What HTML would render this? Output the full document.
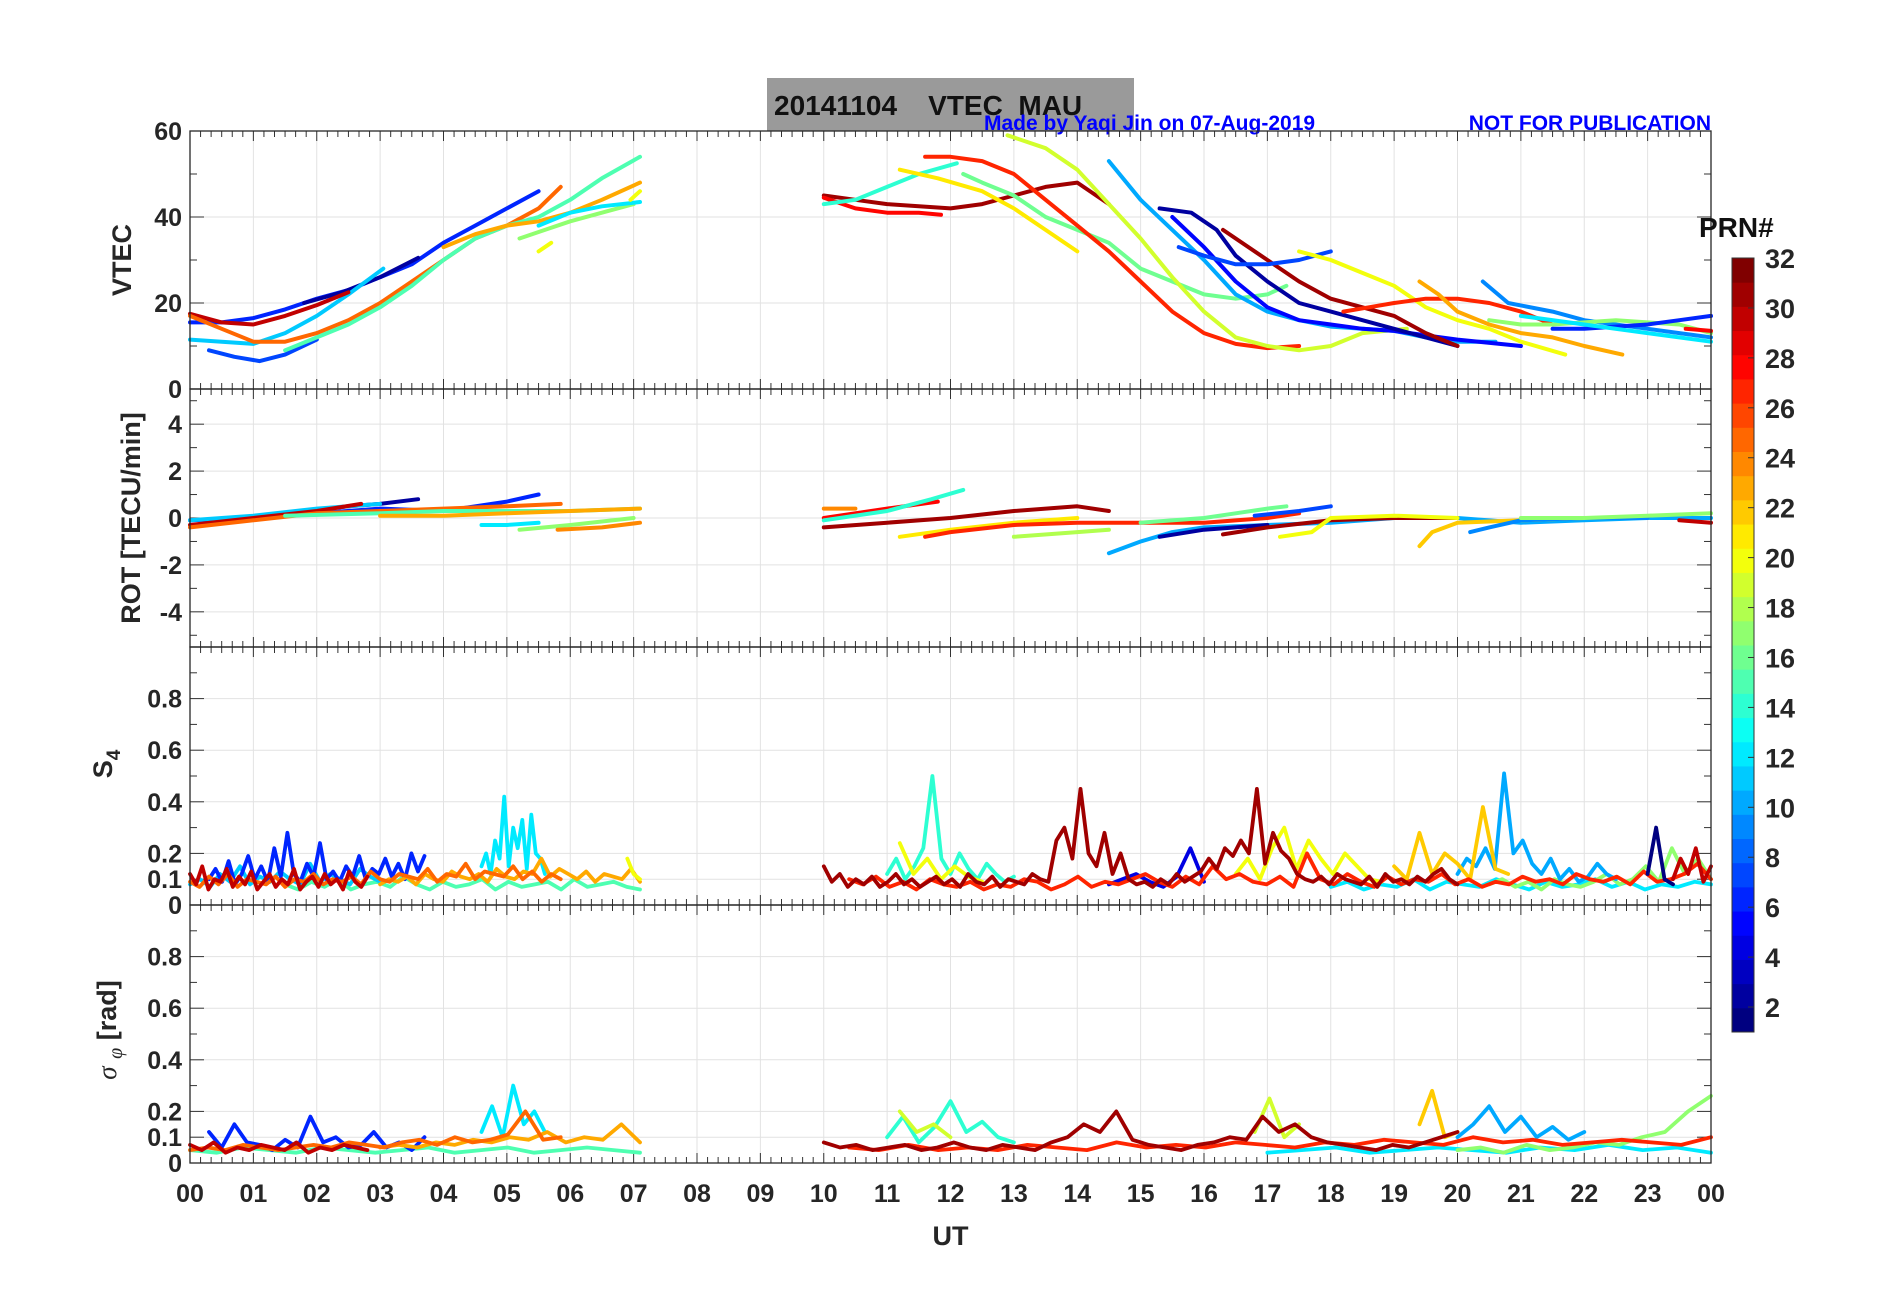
<!DOCTYPE html>
<html><head><meta charset="utf-8"><style>
body{margin:0;background:#fff;}
svg text{font-family:"Liberation Sans",Arial,sans-serif;font-weight:bold;white-space:pre;}
</style></head><body>
<svg id="c" width="1902" height="1292" xmlns="http://www.w3.org/2000/svg"></svg>
<script>
// ---- data ----
const hourLabels=["00","01","02","03","04","05","06","07","08","09","10","11","12","13","14","15","16","17","18","19","20","21","22","23","00"];
const vtecTicks=[0,20,40,60];
const rotTicks=[-4,-2,0,2,4];
const s4Ticks=[0,0.1,0.2,0.4,0.6,0.8];
const sigTicks=[0,0.1,0.2,0.4,0.6,0.8];
const prnTicks=[2,4,6,8,10,12,14,16,18,20,22,24,26,28,30,32];
// VTEC: [prn, times, values]
const vtecSeries=[
[6,[0,0.5,1,1.5,2,2.5,3,3.5,4,4.5,5,5.5],[15.5,15.5,16.5,18.5,21,23,26,29,34,38,42,46]],
[7,[0.3,0.7,1.1,1.5,2],[9,7.5,6.5,8,11.5]],
[2,[1.8,2.4,3,3.6],[20,22.5,26,30.5]],
[11,[0,0.5,1,1.5,2,2.5,3.05],[11.5,11,10.5,13,17,22,28]],
[30,[0,0.5,1,1.5,2,2.5],[17.5,15.5,15,17,19.5,22.5]],
[25,[0,0.5,1,1.5,2,2.5,3,3.5,4,4.5,5,5.5,5.85],[17,14,11,11,13,16,20,25,30,35,38,42,47]],
[15,[1.5,2,2.5,3,3.5,4,4.5,5,5.5,6,6.5,7.1],[9,12,15,19,24,30,35,38,40,44,49,54]],
[23,[4,4.5,5,5.5,6,6.5,7.1],[33,36,38,39,41,44,48]],
[17,[5.2,5.6,6,6.5,7],[35,37,39,41,43]],
[12,[5.5,6,6.5,7.1],[38,41,42.5,43.5]],
[20,[5.5,5.7],[32,34]],
[20,[6.95,7.1],[44,46]],
[31,[10,10.5,11,11.5,12,12.5,13,13.5,14,14.5],[45,44,43,42.5,42,43,45,47,48,43]],
[28,[10,10.5,11,11.5,11.85],[44.5,42,41,41,40.5]],
[14,[10,10.5,11,11.5,12.1],[43,44,47,50,52.5]],
[21,[11.2,11.8,12.5,13,13.5,14],[51,49,46,42,37,32]],
[16,[12.2,12.5,13,13.5,14,14.5,15,15.5,16,16.5,17,17.3],[50,48,45,40,37,34,28,25,22,21,22,24]],
[27,[11.6,12,12.5,13,13.5,14,14.5,15,15.5,16,16.5,17,17.5],[54,54,53,50,44,38,32,25,18,13,10.5,9.5,10]],
[19,[12.9,13.5,14,14.5,15,15.5,16,16.5,17,17.5,18,18.5,19.2],[59,56,51,43,35,26,18,12,10,9,10,13,14]],
[10,[14.5,15,15.5,16,16.5,17,17.5,18,18.5,19,19.5,20,20.6],[53,44,37,30,22,18,16,14.5,14,13.5,12,11,11]],
[5,[15.5,16,16.5,17,17.5,18,18.5,19,19.5,20,21],[40,33,25,19,16,15,14,13.5,12.5,11.5,10]],
[2,[15.3,15.8,16.2,16.5,17,17.5,18,18.5,19,19.5,20],[42,41,37,31,25,20,18,16,14,12,10]],
[31,[16.3,17,17.5,18,18.5,19,19.5,20],[37,30,25,21,19,17,13,10]],
[7,[15.6,16,16.5,17,17.5,18],[33,31,29,29,30,32]],
[20,[17.5,18,18.5,19,19.5,20,20.5,21,21.7],[32,30,27,24,19,16,14,11,8]],
[27,[18.2,18.6,19,19.5,20,20.5,21,21.5],[18,19,20,21,21,20,18,15]],
[23,[19.4,19.7,20,20.5,21,21.5,22,22.6],[25,22,18,15,13,12,10,8]],
[9,[20.4,20.8,21.5,22,22.5,23,23.5,24],[25,20,18,16,15,14,13,12]],
[17,[20.5,21,21.5,22,22.5,23,23.5,24],[16,15,15,15.5,16,15.5,15,13]],
[6,[21.5,22,22.5,23,23.5,24],[14,14,14.5,15,16,17]],
[12,[21,22,23,24],[17,15,13,11]],
[28,[23.6,24],[14,13.5]]
];
const rotSeries=[
[6,[0,1,2,3,4,4.5,5,5.5],[-0.1,0,0.2,0.4,0.3,0.5,0.7,1.0]],
[2,[1.8,2.5,3,3.6],[0.3,0.5,0.6,0.8]],
[11,[0,1,2,3],[-0.1,0.1,0.4,0.6]],
[30,[0,1,2,2.7],[-0.3,0,0.3,0.6]],
[25,[0,1,2,3,4,5,5.85],[-0.4,-0.1,0.2,0.3,0.4,0.5,0.6]],
[15,[1.5,3,4,5,6,7.1],[0.1,0.2,0.3,0.3,0.3,0.4]],
[23,[3,4,5,6,7.1],[0.1,0.1,0.2,0.3,0.4]],
[12,[4.6,5,5.5],[-0.3,-0.3,-0.2]],
[17,[5.2,6,7],[-0.5,-0.3,0]],
[24,[5.8,6.5,7.1],[-0.5,-0.4,-0.2]],
[24,[10,10.5],[0.4,0.4]],
[28,[10,11,11.8],[0,0.4,0.7]],
[14,[10,11,11.7,12.2],[-0.1,0.3,0.8,1.2]],
[31,[10,11,12,13,14,14.5],[-0.4,-0.2,0,0.3,0.5,0.3]],
[21,[11.2,12,13,14],[-0.8,-0.5,-0.2,0]],
[27,[11.6,12,13,14,15,16,17,17.5],[-0.8,-0.6,-0.3,-0.2,-0.2,-0.2,0,0.2]],
[18,[13,14,14.5],[-0.8,-0.6,-0.5]],
[10,[14.5,15,15.5,16,17,18,19,20,21,22,23,24],[-1.5,-1,-0.6,-0.4,-0.3,-0.2,0,0,-0.2,-0.1,0,0]],
[2,[15.3,16,17],[-0.8,-0.5,-0.3]],
[31,[16.3,17,18,19,20],[-0.7,-0.4,-0.1,0,0]],
[16,[15,16,16.5,17,17.3],[-0.2,0,0.2,0.4,0.5]],
[7,[16.8,17.5,18],[0.1,0.3,0.5]],
[20,[17.2,17.7,18,19,20],[-0.8,-0.6,0,0.1,0]],
[22,[19.4,19.6,20,21,22,23],[-1.2,-0.6,-0.2,-0.1,0,0]],
[9,[20.2,20.5,21,22,23],[-0.6,-0.4,-0.1,0,0]],
[17,[21,22,23,24],[0,0,0.1,0.2]],
[30,[23.5,24],[-0.1,-0.2]]
];
// S4: [prn, tStart, tEnd, values in hundredths]
const s4Series=[
[15,1.5,7.1,"8 6 9 7 10 6 8 9 7 11 8 6 9 7 8 10 6 9 7 8 9 6 10 7 8 9 7 6"],
[11,0,3,"8 10 7 12 9 15 8 11 9 13 10 8 16 9 12 10 8 14 11 9"],
[6,0.3,3.7,"10 14 9 17 8 12 19 10 15 9 22 11 28 12 9 16 11 24 10 13 9 15 11 19 10 14 12 18 11 16 10 20 13 19"],
[12,4.6,5.6,"15 20 12 25 18 42 15 30 22 33 14 35 20 18 12"],
[23,3,7.1,"8 10 9 11 8 12 10 9 13 11 10 12 9 14 11 10 13 12 18 11 14 12 10 13 9 12 11 10 14 9"],
[20,6.9,7.1,"18 12 10"],
[25,0,5.85,"9 7 11 8 12 7 10 9 8 11 7 10 9 12 8 10 9 11 8 13 10 9 12 11 10 14 9 12 11 16 10 13 12 11 15 10 13 9 12 10"],
[30,0,2.8,"12 8 15 6 10 9 14 7 11 8 13 6 9 12 7 10 8 14 6 9 11 7 12 8 10 6 13 9 7 11"],
[12,18,24,"7 9 6 8 7 10 6 9 8 7 10 8 6 9 7 8 10 7 9 6 8 7 9 8"],
[17,20.5,24,"8 10 7 9 6 10 8 7 9 12 8 10 15 9 22 12 18 10"],
[14,11,13,"12 18 10 15 22 50 18 12 20 14 10 16 12 9 11"],
[4,14.5,16,"8 10 12 9 7 11 22 9"],
[10,20,22.5,"12 18 15 22 14 51 20 25 16 12 18 10 14 9 11 16 12 10"],
[20,11.2,12.5,"24 12 18 10 15 11 9"],
[20,16.5,18.8,"12 18 10 22 30 14 25 18 12 20 15 10 9"],
[22,19,20.8,"15 10 28 12 20 16 10 38 14 12"],
[27,10.4,24,"10 8 11 7 9 6 10 8 7 9 6 8 7 10 9 6 8 11 7 9 8 10 12 9 7 11 8 15 10 12 9 8 11 7 20 10 8 12 9 7 11 8 10 9 12 8 10 7 9 8 11 9 10 8 12 10 9 11 8 13 9 10 12 16 10"],
[1,23,23.4,"12 30 10 8"],
[31,10,20,"15 9 12 7 10 8 11 7 9 12 8 10 7 9 11 8 10 7 12 9 8 11 7 10 9 8 12 10 9 25 30 18 45 20 15 28 12 20 10 8 9 7 10 8 12 9 11 13 18 14 22 19 25 20 45 16 28 21 18 12 10 9 11 8 12 10 9 8 11 7 12 9 10 8 11 9 12 14 10 8"],
[30,23.4,24,"10 18 12 22 9 15"]
];
const sigSeries=[
[15,0,7.1,"5 4 6 5 4 6 5 4 5 6 4 5 6 4 5 6 5 4"],
[6,0.3,3.7,"12 6 15 8 7 5 9 6 18 8 10 6 7 12 6 8 5 10"],
[12,4.6,5.6,"12 22 10 30 15 20 12"],
[23,3,7.1,"6 7 6 8 7 9 8 10 9 12 8 10 9 15 8"],
[25,0,5.85,"5 6 5 7 6 5 6 7 6 8 7 6 8 9 7 10 8 9 11 20 9 10"],
[30,0,2.8,"7 5 8 4 6 5 7 6 5 8 4 6 5 7 6 5"],
[12,17,24,"4 5 6 4 5 6 5 4 6 5 7 5 6 4"],
[14,11,13,"10 18 8 14 24 12 16 10 8"],
[19,11.2,12,"20 12 15 10"],
[19,16.8,17.5,"12 25 10 15"],
[10,20,22,"10 15 22 12 18 10 14 9 12"],
[22,19.4,20,"15 28 10 12"],
[17,20,24,"5 6 4 7 5 6 8 7 10 12 20 26"],
[27,10.4,24,"6 5 7 5 6 5 7 6 5 8 6 7 6 8 7 6 8 7 9 8 7 10 8 9 7 8 9 8 7 10"],
[31,10,20,"8 6 7 5 6 7 5 6 8 6 5 7 6 5 8 10 15 12 20 9 7 6 5 7 8 10 9 18 12 15 10 8 7 6 5 7 6 8 10 12"]
];
// ---- drawing ----
const NS="http://www.w3.org/2000/svg";
const svg=document.getElementById('c');
function el(tag,attrs,parent){const e=document.createElementNS(NS,tag);for(const k in attrs)e.setAttribute(k,attrs[k]);(parent||svg).appendChild(e);return e;}
const L=190,R=1711;
const X=t=>L+t/24*(R-L);
const panels=[
 {top:131,bot:389,min:0,max:60,ticks:vtecTicks,minor:10,name:'vtec'},
 {top:389,bot:647,min:-5.5,max:5.5,ticks:rotTicks,minor:1,name:'rot'},
 {top:647,bot:905,min:0,max:1,ticks:s4Ticks,minor:0.1,name:'s4'},
 {top:905,bot:1163,min:0,max:1,ticks:sigTicks,minor:0.1,name:'sigma'}
];
panels.forEach(p=>p.Y=v=>p.bot-(v-p.min)/(p.max-p.min)*(p.bot-p.top));
function jet(prn){const x=(prn-1)/31;const f=c=>Math.max(0,Math.min(1,c));
 const r=f(1.5-Math.abs(4*x-3)),g=f(1.5-Math.abs(4*x-2)),b=f(1.5-Math.abs(4*x-1));
 return `rgb(${Math.round(r*255)},${Math.round(g*255)},${Math.round(b*255)})`;}
const tb=el('rect',{x:767,y:78,width:367,height:53,fill:'#9a9a9a'});


let t=el('text',{x:774,y:115,'font-size':28,fill:'#111'});t.textContent='20141104    VTEC  MAU';


t=el('text',{x:984,y:130,'font-size':21,fill:'#0000ff'});t.textContent='Made by Yaqi Jin on 07-Aug-2019';


t=el('text',{x:1711,y:130,'font-size':21,fill:'#0000ff','text-anchor':'end'});t.textContent='NOT FOR PUBLICATION';


panels.forEach((p,pi)=>{
 const g=el('g',{});
 
 
 for(let h=1;h<24;h++)el('line',{x1:X(h),x2:X(h),y1:p.top,y2:p.bot,stroke:'#e2e2e2','stroke-width':1},g);
 p.ticks.forEach(v=>{if(v>p.min&&v<p.max)el('line',{x1:L,x2:R,y1:p.Y(v),y2:p.Y(v),stroke:'#e2e2e2','stroke-width':1},g);});
 for(let m=0;m<=144;m++){const x=X(m/6),len=m%6==0?10:6;
  el('line',{x1:x,x2:x,y1:p.bot,y2:p.bot-len,stroke:'#333','stroke-width':1},g);
  el('line',{x1:x,x2:x,y1:p.top,y2:p.top+len,stroke:'#333','stroke-width':1},g);}
 for(let v=p.min+(p.min<0?0.5:0);v<=p.max+1e-9;v+=p.minor){const y=p.Y(v),maj=p.ticks.some(q=>Math.abs(q-v)<1e-6);const len=maj?14:7;
  el('line',{x1:L,x2:L+len,y1:y,y2:y,stroke:'#333','stroke-width':1},g);
  el('line',{x1:R,x2:R-len,y1:y,y2:y,stroke:'#333','stroke-width':1},g);}
 p.ticks.forEach(v=>{const tx=el('text',{x:L-8,y:p.Y(v)+9,'font-size':25,'text-anchor':'end',fill:'#262626'},g);tx.textContent=String(v);
  
  });
 p.g=g;
});
function drawLine(p,prn,ts,vs,w){
 const pts=ts.map((tt,i)=>X(tt).toFixed(1)+','+p.Y(vs[i]).toFixed(1)).join(' ');
 const pl=el('polyline',{points:pts,fill:'none',stroke:jet(prn),'stroke-width':w,'stroke-linejoin':'round','stroke-linecap':'round'},p.g);
 
 
}
vtecSeries.forEach(s=>drawLine(panels[0],s[0],s[1],s[2],4));
rotSeries.forEach(s=>drawLine(panels[1],s[0],s[1],s[2],4));
function drawNoisy(p,arr){arr.forEach(s=>{const vals=s[3].split(' ').map(Number).map(v=>v/100);
 const ts=vals.map((_,i)=>s[1]+(s[2]-s[1])*i/Math.max(1,vals.length-1));drawLine(p,s[0],ts,vals,3.8);});}
drawNoisy(panels[2],s4Series);
drawNoisy(panels[3],sigSeries);
panels.forEach(p=>{const r=el('rect',{x:L,y:p.top,width:R-L,height:p.bot-p.top,fill:'none',stroke:'#262626','stroke-width':1.3});
 
 });
hourLabels.forEach((h,i)=>{const tx=el('text',{x:X(i),y:1202,'font-size':25,'text-anchor':'middle',fill:'#262626'});tx.textContent=h;
 
 });
t=el('text',{x:X(12),y:1245,'font-size':27,'text-anchor':'middle',fill:'#262626'});t.textContent='UT';


function ytitle(x,y,txt,name){const tx=el('text',{x:x,y:y,'font-size':27,'text-anchor':'middle',fill:'#262626',transform:`rotate(-90 ${x} ${y})`});tx.innerHTML=txt;
 
 }
ytitle(131,260,'VTEC','vtec-axis-title');
ytitle(140,518,'ROT [TECU/min]','rot-axis-title');
ytitle(112,764,'S<tspan font-size="19" dy="8">4</tspan>','s4-axis-title');
ytitle(116,1030,'<tspan font-family="Liberation Serif" font-style="italic" font-weight="normal">σ</tspan> <tspan font-family="Liberation Serif" font-style="italic" font-weight="normal" font-size="20" dy="6">φ</tspan><tspan dy="-6"> [rad]</tspan>','sigma-axis-title');
const cbT=258,cbB=1032,cbX=1732,cbW=22;
const cb=el('g',{});


for(let k=1;k<=32;k++){const h=(cbB-cbT)/32;el('rect',{x:cbX,y:cbB-k*h,width:cbW,height:h+0.5,fill:jet(k)},cb);}
el('rect',{x:cbX,y:cbT,width:cbW,height:cbB-cbT,fill:'none',stroke:'#333','stroke-width':1},cb);
const cbY=v=>cbB-(v-1)/31*(cbB-cbT);
prnTicks.forEach(v=>{const y=cbY(v);el('line',{x1:cbX+cbW-6,x2:cbX+cbW,y1:y,y2:y,stroke:'#333'},cb);
 const tx=el('text',{x:cbX+33,y:y+10,'font-size':27,fill:'#262626'},cb);tx.textContent=String(v);
 
 });
t=el('text',{x:1699,y:237,'font-size':28,fill:'#111'});t.textContent='PRN#';


</script>
</body></html>
